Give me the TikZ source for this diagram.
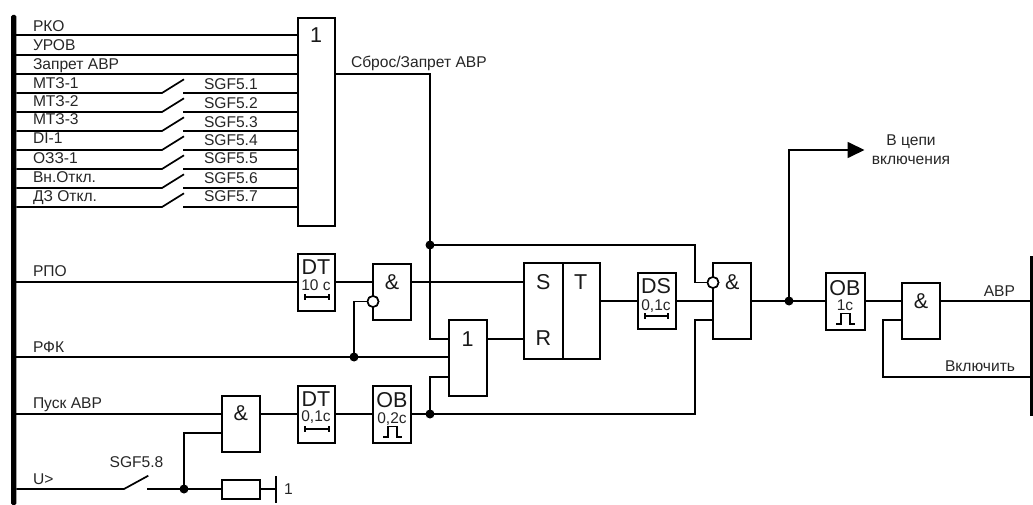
\documentclass[tikz,border=0pt]{standalone}
\usepackage{fontspec}
\setmainfont{Liberation Sans}
\usetikzlibrary{arrows.meta}
\newcommand{\gbox}[5]{\node[gate,minimum width={(#4)-(#2)},minimum height={(#5)-(#3)}] (#1) at ({((#2)+(#4))/2},{((#3)+(#5))/2}) {};}
\tikzset{
  wire/.style={line width=1.7pt,line join=miter},
  gate/.style={draw=black,line width=1.7pt,fill=white,inner sep=0pt,outer sep=0pt},
  lab/.style={anchor=base west,inner sep=0pt,outer sep=0pt,font=\fontsize{15.6}{17}\selectfont,text=black!85},
  labr/.style={lab,anchor=base east},
  labc/.style={lab,anchor=base},
  big/.style={anchor=base,inner sep=0pt,outer sep=0pt,font=\fontsize{21.5}{23}\selectfont,text=black!90},
  small/.style={anchor=base,inner sep=0pt,outer sep=0pt,font=\fontsize{15.5}{17}\selectfont,text=black!85},
  junction/.style={circle,fill=black,inner sep=0pt,outer sep=0pt,minimum size=9pt},
  bubble/.style={circle,draw=black,line width=1.6pt,fill=white,inner sep=0pt,outer sep=0pt,minimum size=11pt},
  busbar/.style={fill=black,inner sep=0pt,outer sep=0pt},
}
\begin{document}
\begin{tikzpicture}[x=1pt,y=-1pt]
\useasboundingbox (0,0) rectangle (1033,505);
% bus bars
\node[busbar,minimum width=5.2pt,minimum height=490pt,rounded corners=1.5pt] (bus) at (13.7,260) {};
\node[busbar,minimum width=2.4pt,minimum height=160pt] (rbus) at (1031.6,336) {};
% gates
\gbox{orA}{298}{18}{335}{226}
\gbox{dtA}{298}{254}{335}{311}
\gbox{andA}{373}{264}{411}{320}
\gbox{orB}{449}{320}{487}{396}
\gbox{srS}{524}{263}{563}{359}
\gbox{srT}{563}{263}{600}{359}
\gbox{dsA}{638}{273}{676}{329}
\gbox{andB}{713}{263}{751}{339}
\gbox{obA}{826}{273}{865}{330}
\gbox{andC}{902}{283}{940}{339}
\gbox{andD}{222}{396}{260}{452}
\gbox{dtB}{298}{386}{335}{443}
\gbox{obB}{373}{386}{411}{443}
\gbox{res}{222}{480}{260}{499}
% junctions
\node[junction] (jA) at (430,245) {};
\node[junction] (jB) at (354,357) {};
\node[junction] (jC) at (430,414) {};
\node[junction] (jD) at (789,301) {};
\node[junction] (jE) at (184,489) {};
\node[bubble] (bubA) at (373,301.5) {};
\node[bubble] (bubB) at (713,282.5) {};
% left inputs of first OR
\draw[wire] (bus.east |- 0,35) -- (orA.west |- 0,35);
\draw[wire] (bus.east |- 0,55) -- (orA.west |- 0,55);
\draw[wire] (bus.east |- 0,74) -- (orA.west |- 0,74);
\foreach \yy in {93,112,131,150,169,188,207}{
  \coordinate (swa) at (162,\yy);
  \coordinate (swb) at (184,\yy-13.7);
  \coordinate (swc) at (183,\yy);
  \draw[wire] (bus.east |- swa) -- (swa) -- (swb);
  \draw[wire] (swc) -- (orA.west |- swc);
}
% OR output
\draw[wire] (orA.east |- 0,74) -- (430,74) -- (jA.center) -- (430,339) -- (orB.west |- 0,339);
\draw[wire] (jA.center) -- (695,245) -- (695,282.5) -- (bubB.west);
% RPO
\draw[wire] (bus.east |- 0,282) -- (dtA.west |- 0,282);
\draw[wire] (dtA.east |- 0,282) -- (andA.west |- 0,282);
\draw[wire] (andA.east |- 0,282) -- (srS.west |- 0,282);
% RFK
\draw[wire] (bus.east |- 0,357) -- (orB.west |- 0,357);
\draw[wire] (jB.center) -- (354,301.5) -- (bubA.west);
% Pusk
\draw[wire] (bus.east |- 0,414) -- (andD.west |- 0,414);
\draw[wire] (andD.east |- 0,414) -- (dtB.west |- 0,414);
\draw[wire] (dtB.east |- 0,414) -- (obB.west |- 0,414);
\draw[wire] (obB.east |- 0,414) -- (jC.center) -- (695,414) -- (695,320) -- (andB.west |- 0,320);
\draw[wire] (jC.center) -- (430,377) -- (orB.west |- 0,377);
% U>
\coordinate (swUa) at (124,489);
\coordinate (swUb) at (148.3,475.7);
\coordinate (swUc) at (147,489);
\draw[wire] (bus.east |- swUa) -- (swUa) -- (swUb);
\draw[wire] (swUc) -- (res.west |- swUc);
\draw[wire] (jE.center) -- (184,433) -- (andD.west |- 0,433);
\coordinate (tie) at (276,489);
\draw[wire] (res.east |- tie) -- (tie);
\draw[line width=2.2pt] (276,476) -- (276,502.7);
% SR
\draw[wire] (orB.east |- 0,339) -- (srS.west |- 0,339);
\draw[wire] (srT.east |- 0,301) -- (dsA.west |- 0,301);
\draw[wire] (dsA.east |- 0,301) -- (andB.west |- 0,301);
\draw[wire] (andB.east |- 0,301) -- (obA.west |- 0,301);
\draw[wire,-{Triangle[length=17pt,width=16pt]}] (jD.center) -- (789,150) -- (864.5,150);
\draw[wire] (obA.east |- 0,301) -- (andC.west |- 0,301);
\draw[wire] (andC.east |- 0,301) -- (rbus.west |- 0,301);
\draw[wire] (rbus.west |- 0,377) -- (883,377) -- (883,320) -- (andC.west |- 0,320);
% bubbles on top of the wires
\node[bubble] (bubAt) at (bubA) {};
\node[bubble] (bubBt) at (bubB) {};
% timer bars
\foreach \xa/\xb/\yy in {305/329/297,305/329/429,645/668/316}{
  \draw[line width=1.5pt] (\xa,\yy) -- (\xb,\yy);
  \draw[line width=1.3pt] (\xa,\yy-3) -- (\xa,\yy+3);
  \draw[line width=1.3pt] (\xb,\yy-3) -- (\xb,\yy+3);
}
% pulses
\foreach \xo/\yo in {826/273,373/386}{
  \draw[line width=1.5pt] (\xo+10,\yo+51) -- (\xo+15,\yo+51) -- (\xo+15,\yo+40.3) -- (\xo+24,\yo+40.3) -- (\xo+24,\yo+51) -- (\xo+29,\yo+51);
}
% signal labels
\node[lab] (tRKO) at (33,31.7) {РКО};
\node[lab] (tUROV) at (33,50.7) {УРОВ};
\node[lab] (tZAP) at (33,69.3) {Запрет АВР};
\node[lab] (tM1) at (33,88.3) {МТЗ-1};
\node[lab] (tM2) at (33,106.7) {МТЗ-2};
\node[lab] (tM3) at (33,125) {МТЗ-3};
\node[lab] (tDI) at (33,144) {DI-1};
\node[lab] (tOZZ) at (33,163.3) {ОЗЗ-1};
\node[lab] (tVN) at (33,182.3) {Вн.Откл.};
\node[lab] (tDZ) at (33,201.7) {ДЗ Откл.};
\node[lab] (tRPO) at (33,276) {РПО};
\node[lab] (tRFK) at (33,352.7) {РФК};
\node[lab] (tPUSK) at (33,408.5) {Пуск АВР};
\node[lab] (tU) at (33,484) {U>};
\node[lab] (s1) at (204,89.3) {SGF5.1};
\node[lab] (s2) at (204,108.3) {SGF5.2};
\node[lab] (s3) at (204,127.3) {SGF5.3};
\node[lab] (s4) at (204,145.7) {SGF5.4};
\node[lab] (s5) at (204,164) {SGF5.5};
\node[lab] (s6) at (204,183.3) {SGF5.6};
\node[lab] (s7) at (204,201) {SGF5.7};
\node[labc] (s8) at (136.5,467.5) {SGF5.8};
\node[lab] (tSBR) at (351,68) {Сброс/Запрет АВР};
\node[labc] (tVC1) at (911,145.5) {В цепи};
\node[labc] (tVC2) at (911,165) {включения};
\node[labr] (tAVR) at (1015,296.7) {АВР};
\node[labr] (tVKL) at (1015,371.7) {Включить};
\node[lab] (tOne) at (284,494) {1};
% gate labels
\node[big] (gOrA) at (316,42.3) {1};
\node[big] (gDtA) at (316,274) {DT};
\node[small] (gDtAt) at (316,290.7) {10 c};
\node[big] (gAndA) at (392,289.3) {\&};
\node[big] (gOrB) at (467.7,346.7) {1};
\node[big] (gS) at (543.3,289) {S};
\node[big] (gR) at (543.3,345.7) {R};
\node[big] (gT) at (580.7,289) {T};
\node[big] (gDs) at (656,293.3) {DS};
\node[small] (gDst) at (656,310) {0,1c};
\node[big] (gAndB) at (732.3,289) {\&};
\node[big] (gOb) at (845,295) {OB};
\node[small] (gObt) at (845,310) {1c};
\node[big] (gAndC) at (921,308) {\&};
\node[big] (gAndD) at (240.7,420.7) {\&};
\node[big] (gDtB) at (316,406) {DT};
\node[small] (gDtBt) at (316,421.7) {0,1c};
\node[big] (gObB) at (392,407.7) {OB};
\node[small] (gObBt) at (392,423.3) {0,2c};
\end{tikzpicture}
\end{document}
